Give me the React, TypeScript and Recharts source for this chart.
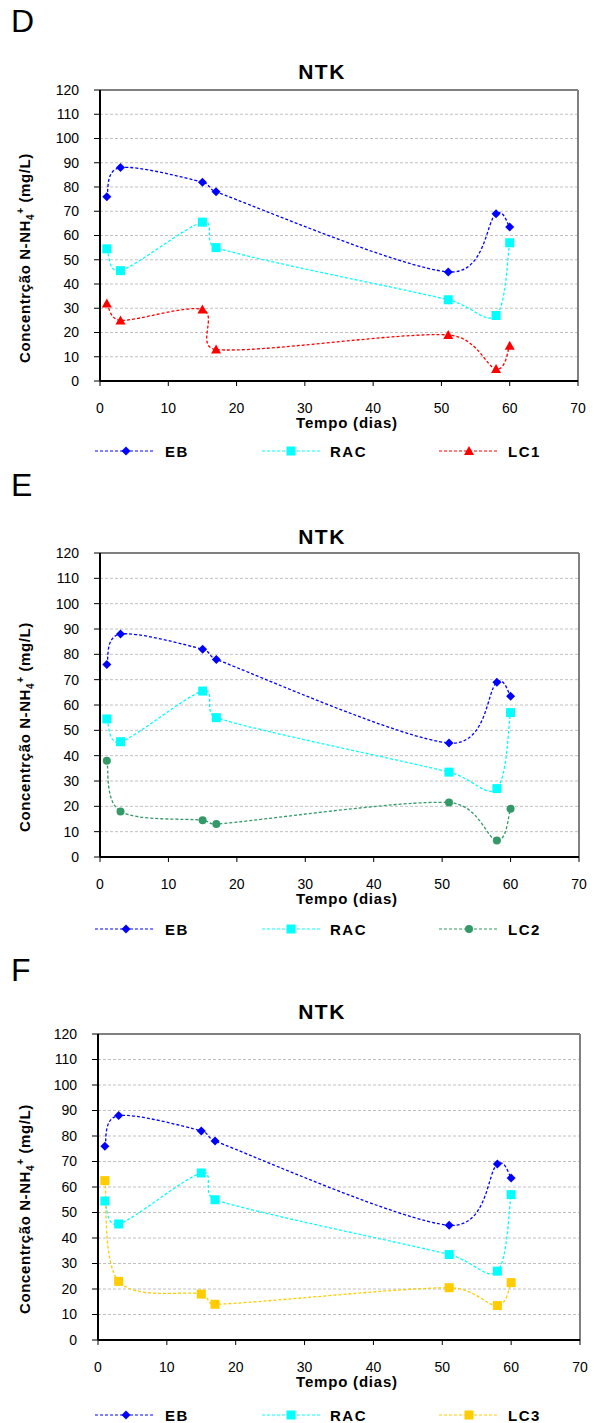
import React from "react";
import { CartesianGrid, Line, LineChart, ReferenceLine, XAxis, YAxis } from "recharts";

const days = [1, 3, 15, 17, 51, 58, 60];
const eb = [76, 88, 82, 78, 45, 69, 63.5];
const rac = [54.5, 45.5, 65.5, 55, 33.5, 27, 57];
const lc1 = [32, 25, 29.5, 13, 19, 5, 14.5];
const lc2 = [38, 18, 14.5, 13, 21.5, 6.5, 19];
const lc3 = [62.5, 23, 18, 14, 20.5, 13.5, 22.5];
const xTicks = [0, 10, 20, 30, 40, 50, 60, 70];
const yTicks = [0, 10, 20, 30, 40, 50, 60, 70, 80, 90, 100, 110, 120];

const FONT = '"Liberation Sans", Arial, sans-serif';

// Excel-like smoothed line: Catmull-Rom bezier in screen space,
// handles capped at half the segment length so short segments don't loop
function excelSmooth(context: any) {
  let pts: number[][] = [];
  const dist = (a: number[], b: number[]) => Math.hypot(a[0] - b[0], a[1] - b[1]);
  return {
    areaStart() {},
    areaEnd() {},
    lineStart() {
      pts = [];
    },
    point(x: number, y: number) {
      pts.push([+x, +y]);
    },
    lineEnd() {
      const n = pts.length;
      if (!n) return;
      context.moveTo(pts[0][0], pts[0][1]);
      for (let i = 0; i < n - 1; i++) {
        const p0 = pts[i - 1] || pts[i];
        const p1 = pts[i];
        const p2 = pts[i + 1];
        const p3 = pts[i + 2] || p2;
        const seg = dist(p1, p2);
        let h1 = [(p2[0] - p0[0]) / 6, (p2[1] - p0[1]) / 6];
        let h2 = [(p3[0] - p1[0]) / 6, (p3[1] - p1[1]) / 6];
        const l1 = Math.hypot(h1[0], h1[1]);
        const l2 = Math.hypot(h2[0], h2[1]);
        if (l1 > seg / 2) h1 = [(h1[0] * seg) / 2 / l1, (h1[1] * seg) / 2 / l1];
        if (l2 > seg / 2) h2 = [(h2[0] * seg) / 2 / l2, (h2[1] * seg) / 2 / l2];
        context.bezierCurveTo(p1[0] + h1[0], p1[1] + h1[1], p2[0] - h2[0], p2[1] - h2[1], p2[0], p2[1]);
      }
    },
  };
}

type Shape = "diamond" | "square" | "triangle" | "circle";

function drawShape(shape: Shape, color: string, cx: number, cy: number, key?: string | number) {
  if (shape === "diamond")
    return <polygon key={key} points={`${cx},${cy - 4.5} ${cx + 4.5},${cy} ${cx},${cy + 4.5} ${cx - 4.5},${cy}`} fill={color} />;
  if (shape === "square") return <rect key={key} x={cx - 4.5} y={cy - 4.5} width={9} height={9} fill={color} />;
  if (shape === "triangle")
    return <polygon key={key} points={`${cx},${cy - 5} ${cx + 5},${cy + 4} ${cx - 5},${cy + 4}`} fill={color} />;
  return <circle key={key} cx={cx} cy={cy} r={4} fill={color} />;
}

const marker = (shape: Shape, color: string) => (p: any) => drawShape(shape, color, p.cx, p.cy, p.key ?? `${p.cx}-${p.cy}`);

type Series = { name: string; values: number[]; color: string; shape: Shape };

const ebSeries: Series = { name: "EB", values: eb, color: "#0000FF", shape: "diamond" };
const racSeries: Series = { name: "RAC", values: rac, color: "#00FFFF", shape: "square" };

function Panel({
  letter, letterGap, titleGap, third, plotTop, plotBottom, plotLeft, plotRight, legendY,
}: {
  letter: string; letterGap: number; titleGap: number; third: Series; plotTop: number; plotBottom: number; plotLeft: number; plotRight: number; legendY: number;
}) {
  const series = [ebSeries, racSeries, third];
  const rows = days.map((d, i) => {
    const r: Record<string, number> = { day: d };
    series.forEach((s) => (r[s.name] = s.values[i]));
    return r;
  });
  const padTop = 10;
  const axisH = 50;
  const chartTop = plotTop - padTop;
  const chartH = padTop + (plotBottom - plotTop) + axisH;
  const legendX = [
    { line: 95, mark: 126, text: 165 },
    { line: 262, mark: 291, text: 330 },
    { line: 439, mark: 469, text: 508 },
  ];
  return (
    <>
      <div style={{ position: "absolute", left: 11, top: plotTop - letterGap, transform: "translateY(-50%)", fontSize: 32, fontFamily: FONT }}>
        {letter}
      </div>
      <div style={{ position: "absolute", left: 322, top: plotTop - titleGap, transform: "translate(-50%,-50%)", fontSize: 21, fontWeight: "bold", letterSpacing: 1.5, fontFamily: FONT }}>
        NTK
      </div>
      <div style={{ position: "absolute", left: 0, top: chartTop }}>
        <LineChart width={594} height={chartH} data={rows} margin={{ top: padTop, right: 594 - plotRight, bottom: 0, left: 0 }}>
          <CartesianGrid vertical={false} stroke="#c0c0c0" strokeDasharray="3 2" />
          <XAxis
            dataKey="day" type="number" domain={[0, 70]} ticks={xTicks} height={axisH}
            axisLine={{ stroke: "#000", strokeWidth: 2 }} tickLine={{ stroke: "#000" }} tickSize={5} tickMargin={17}
            tick={{ fill: "#000", fontSize: 14, fontFamily: FONT }}
          />
          <YAxis
            type="number" domain={[0, 120]} ticks={yTicks} width={plotLeft} interval={0}
            axisLine={{ stroke: "#000", strokeWidth: 2 }} tickLine={{ stroke: "#000" }} tickSize={6} tickMargin={15}
            tick={{ fill: "#000", fontSize: 14, fontFamily: FONT }}
          />
          <ReferenceLine y={120} stroke="#808080" strokeWidth={2} />
          <ReferenceLine x={70} stroke="#808080" strokeWidth={2} />
          {series.map((s) => (
            <Line
              key={s.name} type={excelSmooth as any} dataKey={s.name} stroke={s.color} strokeWidth={1.3} strokeDasharray="3 2"
              dot={marker(s.shape, s.color)} activeDot={false} isAnimationActive={false}
            />
          ))}
        </LineChart>
      </div>
      <div style={{ position: "absolute", left: 0, top: plotBottom + 42, width: 594, textAlign: "center", transform: "translateY(-50%)" }}>
        <span style={{ position: "relative", left: 50, fontSize: 15, fontWeight: "bold", letterSpacing: 0.8, fontFamily: FONT }}>Tempo (dias)</span>
      </div>
      <div
        style={{
          position: "absolute", left: 25, top: (plotTop + plotBottom) / 2 + 22, transform: "translate(-50%,-50%) rotate(-90deg)",
          whiteSpace: "nowrap", fontSize: 15, fontWeight: "bold", letterSpacing: 0.6, fontFamily: FONT,
        }}
      >
        Concentrção N-NH<sub style={{ fontSize: 10 }}>4</sub>
        <sup style={{ fontSize: 10 }}>+</sup> (mg/L)
      </div>
      {series.map((s, i) => (
        <React.Fragment key={s.name}>
          <svg style={{ position: "absolute", left: legendX[i].line, top: legendY - 6 }} width={62} height={12}>
            <line x1={0} y1={6} x2={60} y2={6} stroke={s.color} strokeWidth={1.2} strokeDasharray="3 2" />
            {drawShape(s.shape, s.color, legendX[i].mark - legendX[i].line, 6)}
          </svg>
          <div style={{ position: "absolute", left: legendX[i].text, top: legendY, transform: "translateY(-50%)", fontSize: 15, fontWeight: "bold", letterSpacing: 1.5, fontFamily: FONT }}>
            {s.name}
          </div>
        </React.Fragment>
      ))}
    </>
  );
}

export default function App() {
  return (
    <div style={{ position: "absolute", left: 0, top: 0, width: 594, height: 1423, background: "#fff", overflow: "hidden" }}>
      <Panel letter="D" letterGap={69} titleGap={18} third={{ name: "LC1", values: lc1, color: "#FF0000", shape: "triangle" }} plotTop={90} plotBottom={381} plotLeft={100} plotRight={578} legendY={451} />
      <Panel letter="E" letterGap={68} titleGap={16} third={{ name: "LC2", values: lc2, color: "#339966", shape: "circle" }} plotTop={553} plotBottom={857} plotLeft={100} plotRight={579} legendY={929} />
      <Panel letter="F" letterGap={64} titleGap={22} third={{ name: "LC3", values: lc3, color: "#FFCC00", shape: "square" }} plotTop={1034} plotBottom={1340} plotLeft={98} plotRight={580} legendY={1415} />
    </div>
  );
}
